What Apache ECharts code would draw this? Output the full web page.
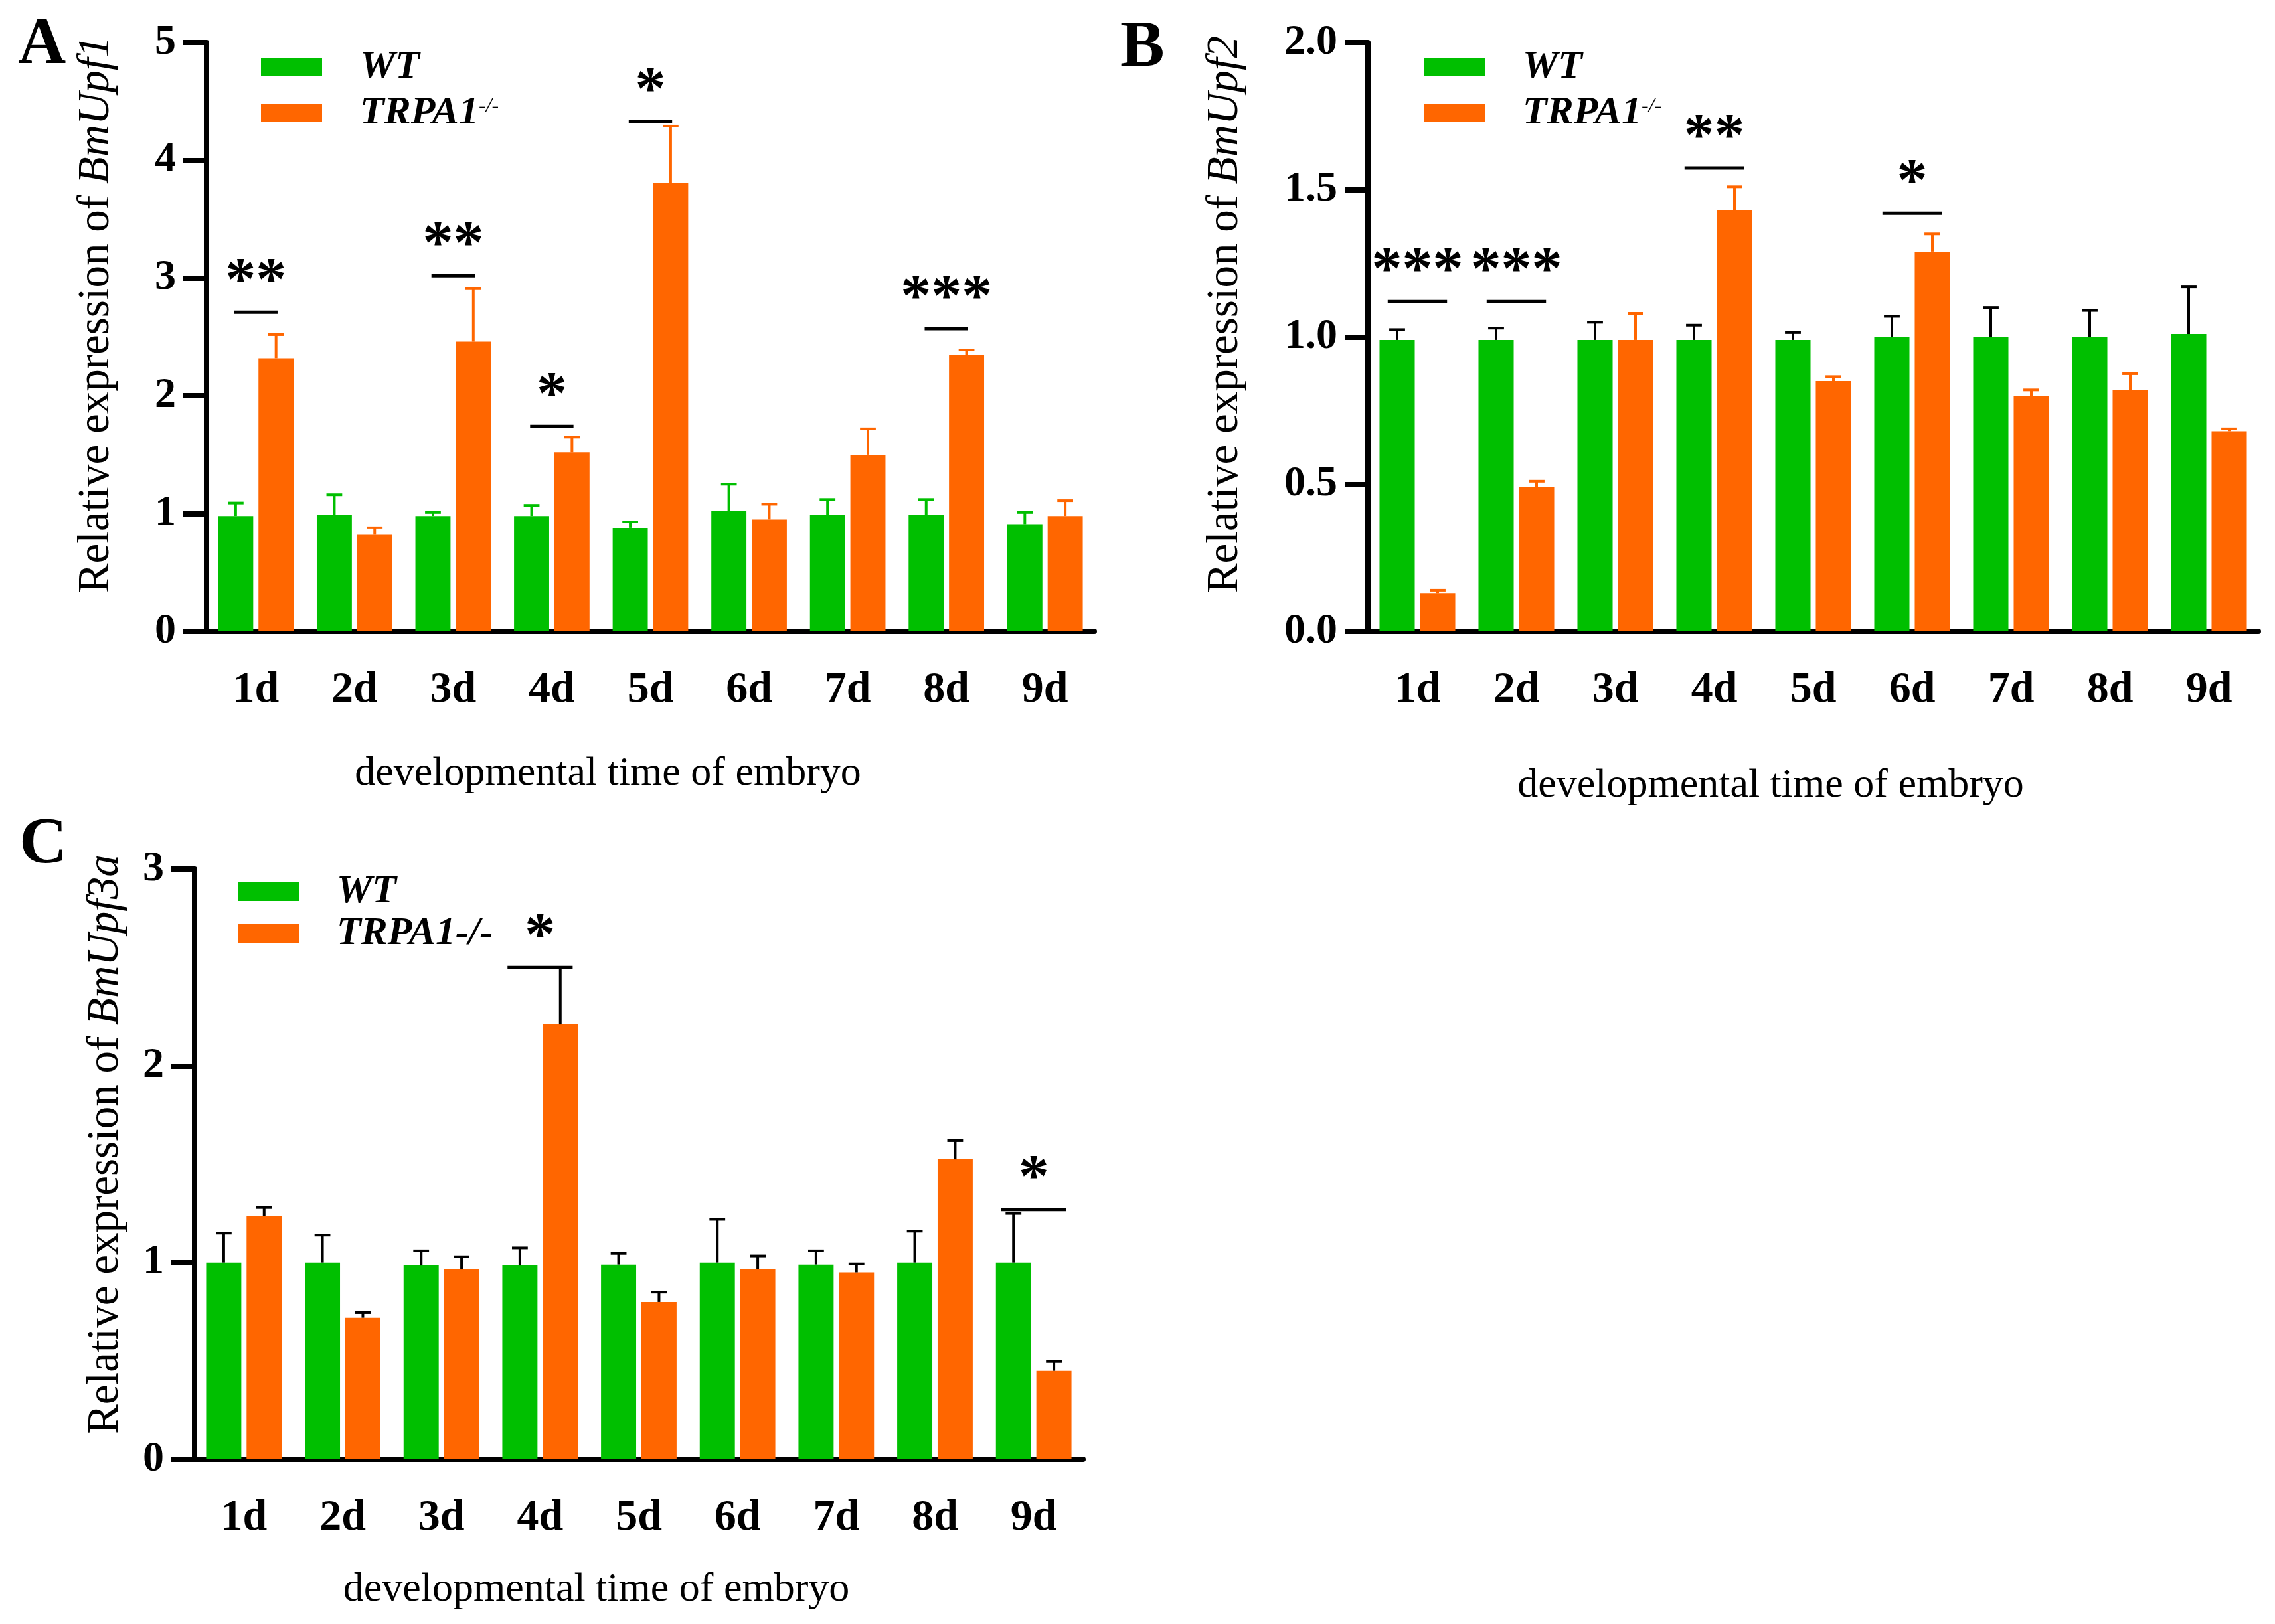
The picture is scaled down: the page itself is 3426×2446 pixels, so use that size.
<!DOCTYPE html>
<html>
<head>
<meta charset="utf-8">
<script src="https://cdn.jsdelivr.net/npm/echarts@6/dist/echarts.min.js"></script>
<style>
html,body{margin:0;padding:0;background:#fff;}
#chart{width:3426px;height:2446px;}
</style>
</head>
<body>
<div id="chart"></div>
<script>
// ---------- data ----------
const categories = ['1d','2d','3d','4d','5d','6d','7d','8d','9d'];
const seriesNames = ['WT','TRPA1-/-'];

// Panel A : BmUpf1
const upf1WT     = [0.98,0.99,0.98,0.98,0.88,1.02,0.99,0.99,0.91];
const upf1WTErr  = [0.11,0.17,0.03,0.09,0.05,0.23,0.13,0.13,0.10];
const upf1KO     = [2.32,0.82,2.46,1.52,3.81,0.95,1.50,2.35,0.98];
const upf1KOErr  = [0.20,0.06,0.45,0.13,0.48,0.13,0.22,0.04,0.13];
const upf1SigDay   = [0,2,3,4,7];
const upf1SigY     = [2.71,3.02,1.74,4.33,2.57];
const upf1SigStars = [2,2,1,1,3];
const upf1Ticks = [0,1,2,3,4,5];

// Panel B : BmUpf2
const upf2WT     = [0.99,0.99,0.99,0.99,0.99,1.00,1.00,1.00,1.01];
const upf2WTErr  = [0.035,0.04,0.06,0.05,0.025,0.07,0.10,0.09,0.16];
const upf2KO     = [0.13,0.49,0.99,1.43,0.85,1.29,0.80,0.82,0.68];
const upf2KOErr  = [0.01,0.02,0.09,0.08,0.015,0.06,0.02,0.055,0.008];
const upf2SigDay   = [0,1,3,5];
const upf2SigY     = [1.12,1.12,1.574,1.42];
const upf2SigStars = [3,3,2,1];
const upf2Ticks = [0,0.5,1.0,1.5,2.0];

// Panel C : BmUpf3a
const upf3aWT    = [1.00,1.00,0.985,0.985,0.99,1.00,0.99,1.00,1.00];
const upf3aWTErr = [0.15,0.14,0.075,0.09,0.057,0.22,0.07,0.16,0.25];
const upf3aKO    = [1.235,0.72,0.965,2.21,0.80,0.967,0.95,1.525,0.45];
const upf3aKOErr = [0.045,0.026,0.065,0.29,0.05,0.067,0.043,0.095,0.047];
const upf3aSigDay   = [3,8];
const upf3aSigY     = [2.50,1.27];
const upf3aSigStars = [1,1];
const upf3aTicks = [0,1,2,3];

// ---------- styles ----------
const FONT = 'Liberation Serif';
const GREEN = '#00bf00';
const ORANGE = '#ff6600';
const BAR_W = 0.356;      // fraction of category width
const BAR_GAP = 0.15;     // fraction of bar width
const OFF = BAR_W / 2 + BAR_W * BAR_GAP / 2;

const chart = echarts.init(document.getElementById('chart'), null, {renderer: 'canvas'});

function errSeries(gi, values, errs, side, color) {
  return {
    type: 'custom', xAxisIndex: gi, yAxisIndex: gi, z: 5, silent: true,
    data: values.map((v, i) => [i, v, errs[i]]),
    renderItem: function (params, api) {
      const i = api.value(0), v = api.value(1), e = api.value(2);
      const w = api.size([1, 0])[0];
      const p0 = api.coord([i, v]);
      const p1 = api.coord([i, v + e]);
      const x = p0[0] + side * w * OFF;
      const cap = w * 0.16;
      return {
        type: 'group',
        children: [
          {type: 'line', shape: {x1: x, y1: p0[1], x2: x, y2: p1[1]}, style: {stroke: color, lineWidth: 4}},
          {type: 'line', shape: {x1: x - cap / 2, y1: p1[1], x2: x + cap / 2, y2: p1[1]}, style: {stroke: color, lineWidth: 4}}
        ]
      };
    }
  };
}

function sigSeries(gi, days, ys, stars, lineFrac) {
  return {
    type: 'custom', xAxisIndex: gi, yAxisIndex: gi, z: 6, silent: true,
    data: days.map((d, i) => [d, ys[i], stars[i]]),
    renderItem: function (params, api) {
      const d = api.value(0), y = api.value(1), n = api.value(2);
      const w = api.size([1, 0])[0];
      const p = api.coord([d, y]);
      const L = w * lineFrac;
      return {
        type: 'group',
        children: [
          {type: 'line', shape: {x1: p[0] - L / 2, y1: p[1], x2: p[0] + L / 2, y2: p[1]}, style: {stroke: '#000', lineWidth: 5}},
          {type: 'text', style: {text: '*'.repeat(n), x: p[0], y: p[1] - 60 + 16,
            fontFamily: FONT, fontWeight: 'bold', fontSize: 92, fill: '#000', align: 'center', verticalAlign: 'middle'}}
        ]
      };
    }
  };
}

const grids = [
  {left: 311, top: 64, width: 1337, height: 887},
  {left: 2060, top: 64, width: 1341, height: 887},
  {left: 293, top: 1309, width: 1338, height: 889}
];

function xAxis(gi, nameGap) {
  return {
    type: 'category', gridIndex: gi, data: categories,
    axisLine: {lineStyle: {color: '#000', width: 8}},
    axisTick: {alignWithLabel: true, length: 37, lineStyle: {color: '#000', width: 8}},
    axisLabel: {margin: 56, color: '#000', fontFamily: FONT, fontWeight: 'bold', fontSize: 66},
    name: 'developmental time of embryo', nameLocation: 'middle', nameGap: nameGap,
    nameTextStyle: {color: '#000', fontFamily: FONT, fontSize: 62, padding: [0, 128, 0, 0]}
  };
}

function yAxis(gi, ticks, gene, nameGap, decimals, shift) {
  return {
    type: 'value', gridIndex: gi, min: ticks[0], max: ticks[ticks.length - 1],
    interval: ticks[1] - ticks[0],
    splitLine: {show: false},
    axisLine: {show: true, lineStyle: {color: '#000', width: 8}},
    axisTick: {show: true, length: 35, lineStyle: {color: '#000', width: 8}},
    axisLabel: {margin: 46, color: '#000', fontFamily: FONT, fontWeight: 'bold', fontSize: 64,
      formatter: v => v.toFixed(decimals)},
    name: '{r|Relative expression of }{i|' + gene + '}', nameLocation: 'middle', nameRotate: 90, nameGap: nameGap,
    nameTextStyle: {
      color: '#000', fontFamily: FONT, fontSize: 67, padding: [0, 0, 0, shift],
      rich: {
        r: {color: '#000', fontFamily: FONT, fontSize: 67},
        i: {color: '#000', fontFamily: FONT, fontSize: 67, fontStyle: 'italic'}
      }
    }
  };
}

function barSeries(gi, name, data, color) {
  return {
    type: 'bar', name: name, xAxisIndex: gi, yAxisIndex: gi, data: data,
    barWidth: (BAR_W * 100) + '%', barGap: (BAR_GAP * 100) + '%',
    itemStyle: {color: color}
  };
}

function legend(gi, left, top, gap, superscript) {
  return {
    orient: 'vertical', left: left, top: top, padding: 0, itemGap: gap,
    itemWidth: 92, itemHeight: 28, icon: 'rect', selectedMode: false,
    data: seriesNames,
    formatter: function (name) {
      if (name === 'WT') return '{p|}{i|WT}';
      return superscript ? '{p|}{i|TRPA1}{s|-/-}' : '{p|}{i|TRPA1-/-}';
    },
    textStyle: {
      fontFamily: FONT, fontSize: 60, lineHeight: 50,
      rich: {
        p: {width: 52, lineHeight: 50},
        i: {fontFamily: FONT, fontSize: 60, fontWeight: 'bold', fontStyle: 'italic', color: '#000', lineHeight: 50},
        s: {fontFamily: FONT, fontSize: 32, fontStyle: 'italic', color: '#000', lineHeight: 50, verticalAlign: 'top', padding: [0, 0, 18, 0]}
      }
    }
  };
}

const option = {
  backgroundColor: '#fff',
  animation: false,
  title: [
    {text: 'A', left: 22, top: 14, textStyle: {fontFamily: FONT, fontWeight: 'bold', fontSize: 100, color: '#000'}},
    {text: 'B', left: 1682, top: 18, textStyle: {fontFamily: FONT, fontWeight: 'bold', fontSize: 100, color: '#000'}},
    {text: 'C', left: 24, top: 1218, textStyle: {fontFamily: FONT, fontWeight: 'bold', fontSize: 100, color: '#000'}}
  ],
  grid: grids,
  legend: [
    legend(0, 393, 71, 9, true),
    legend(1, 2144, 71, 9, true),
    legend(2, 358, 1313, 3, false)
  ],
  xAxis: [xAxis(0, 184), xAxis(1, 202), xAxis(2, 166)],
  yAxis: [
    yAxis(0, upf1Ticks, 'BmUpf1', 132, 0, 68),
    yAxis(1, upf2Ticks, 'BmUpf2', 181, 1, 68),
    yAxis(2, upf3aTicks, 'BmUpf3a', 100, 0, 60)
  ],
  series: [
    barSeries(0, 'WT', upf1WT, GREEN),
    barSeries(0, 'TRPA1-/-', upf1KO, ORANGE),
    errSeries(0, upf1WT, upf1WTErr, -1, GREEN),
    errSeries(0, upf1KO, upf1KOErr, 1, ORANGE),
    sigSeries(0, upf1SigDay, upf1SigY, upf1SigStars, 0.44),

    barSeries(1, 'WT', upf2WT, GREEN),
    barSeries(1, 'TRPA1-/-', upf2KO, ORANGE),
    errSeries(1, upf2WT, upf2WTErr, -1, '#000'),
    errSeries(1, upf2KO, upf2KOErr, 1, ORANGE),
    sigSeries(1, upf2SigDay, upf2SigY, upf2SigStars, 0.6),

    barSeries(2, 'WT', upf3aWT, GREEN),
    barSeries(2, 'TRPA1-/-', upf3aKO, ORANGE),
    errSeries(2, upf3aWT, upf3aWTErr, -1, '#000'),
    errSeries(2, upf3aKO, upf3aKOErr, 1, '#000'),
    sigSeries(2, upf3aSigDay, upf3aSigY, upf3aSigStars, 0.66)
  ]
};
chart.setOption(option);
</script>
</body>
</html>
